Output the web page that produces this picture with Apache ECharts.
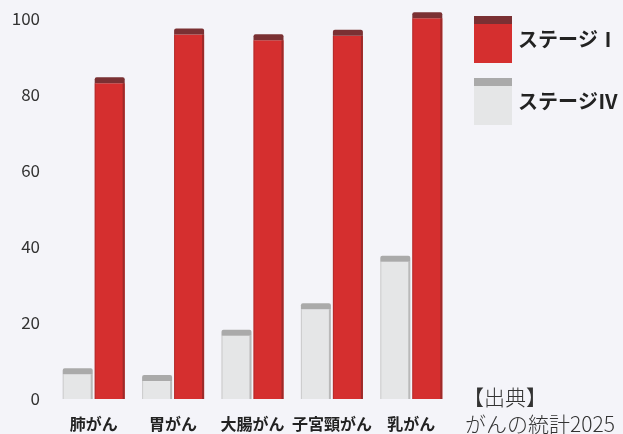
<!DOCTYPE html>
<html>
<head>
<meta charset="utf-8">
<script src="https://cdn.jsdelivr.net/npm/echarts@6/dist/echarts.min.js"></script>
<style>
  html, body { margin: 0; padding: 0; background: #f4f4f9; }
  #main { width: 623px; height: 434px; }
</style>
</head>
<body>
<div id="main"></div>
<script>
// カテゴリと値（5年生存率 %）
const categories = ['肺がん', '胃がん', '大腸がん', '子宮頸がん', '乳がん'];
const stage1 = [84.7, 97.5, 96.0, 97.2, 101.8];
const stage4 = [8.1, 6.3, 18.2, 25.2, 37.7];
const yTicks = [0, 20, 40, 60, 80, 100];

const FONT = '"Noto Sans CJK JP", "Noto Sans", sans-serif';

/* 立体風の棒を描く */
function barRenderer(offset, body, cap, edge) {
  return function (params, api) {
    const top = api.coord([api.value(0), api.value(1)]);
    const base = api.coord([api.value(0), 0]);
    const w = 30, capH = 6;
    const x = top[0] + offset;
    const h = base[1] - top[1];
    return {
      type: 'group',
      children: [
        { type: 'rect', shape: { x: x, y: top[1] + capH, width: w, height: h - capH }, style: { fill: body } },
        { type: 'rect', shape: { x: x + w - 2, y: top[1] + capH, width: 2, height: h - capH }, style: { fill: edge } },
        { type: 'rect', shape: { x: x, y: top[1] + capH, width: 1, height: h - capH }, style: { fill: edge, opacity: 0.6 } },
        { type: 'rect', shape: { x: x, y: top[1], width: w, height: capH, r: [2, 2, 0, 0] }, style: { fill: cap } }
      ]
    };
  };
}

const chart = echarts.init(document.getElementById('main'));
chart.setOption({
  backgroundColor: '#f4f4f9',
  animation: false,
  textStyle: { fontFamily: FONT },
  grid: { left: 54, right: 172, top: 19, bottom: 35, outerBoundsMode: 'none', containLabel: false },
  legend: {
    orient: 'vertical',
    left: 474, top: 16,
    padding: 0,
    itemWidth: 38, itemHeight: 47, itemGap: 15,
    icon: 'rect',
    textStyle: { fontSize: 20, fontWeight: 'bold', color: '#222', padding: [0, 0, 0, 1] },
    data: ['ステージⅠ', 'ステージⅣ']
  },
  graphic: [
    { type: 'rect', left: 474, top: 16, shape: { width: 38, height: 8 }, style: { fill: '#7a3033' }, z: 100 },
    { type: 'rect', left: 474, top: 78, shape: { width: 38, height: 8 }, style: { fill: '#aaaaaa' }, z: 100 },
    { type: 'text', left: 463, top: 387, style: { text: '【出典】', font: '300 21px ' + FONT, fill: '#333' } },
    { type: 'text', left: 465, top: 414, style: { text: 'がんの統計2025', font: '300 21px ' + FONT, fill: '#333' } }
  ],
  xAxis: {
    type: 'category',
    data: categories,
    axisLine: { show: false },
    axisTick: { show: false },
    axisLabel: { interval: 0, margin: 17, fontSize: 16, fontWeight: 'bold', color: '#222', fontFamily: FONT }
  },
  yAxis: {
    type: 'value',
    min: yTicks[0], max: yTicks[yTicks.length - 1], interval: 20,
    splitLine: { show: false },
    axisLine: { show: false },
    axisTick: { show: false },
    axisLabel: { margin: 14, fontSize: 17, color: '#333', fontFamily: FONT }
  },
  series: [
    {
      name: 'ステージⅠ',
      type: 'custom',
      clip: false,
      itemStyle: { color: '#d52f2f' },
      renderItem: barRenderer(1, '#d52f2f', '#7a3033', '#9c2a2a'),
      encode: { x: 0, y: 1 },
      data: stage1.map((v, i) => [i, v])
    },
    {
      name: 'ステージⅣ',
      type: 'custom',
      clip: false,
      itemStyle: { color: '#e5e6e7' },
      renderItem: barRenderer(-31, '#e5e6e7', '#aaaaaa', '#b9b9b9'),
      encode: { x: 0, y: 1 },
      data: stage4.map((v, i) => [i, v])
    }
  ]
});
</script>
</body>
</html>
